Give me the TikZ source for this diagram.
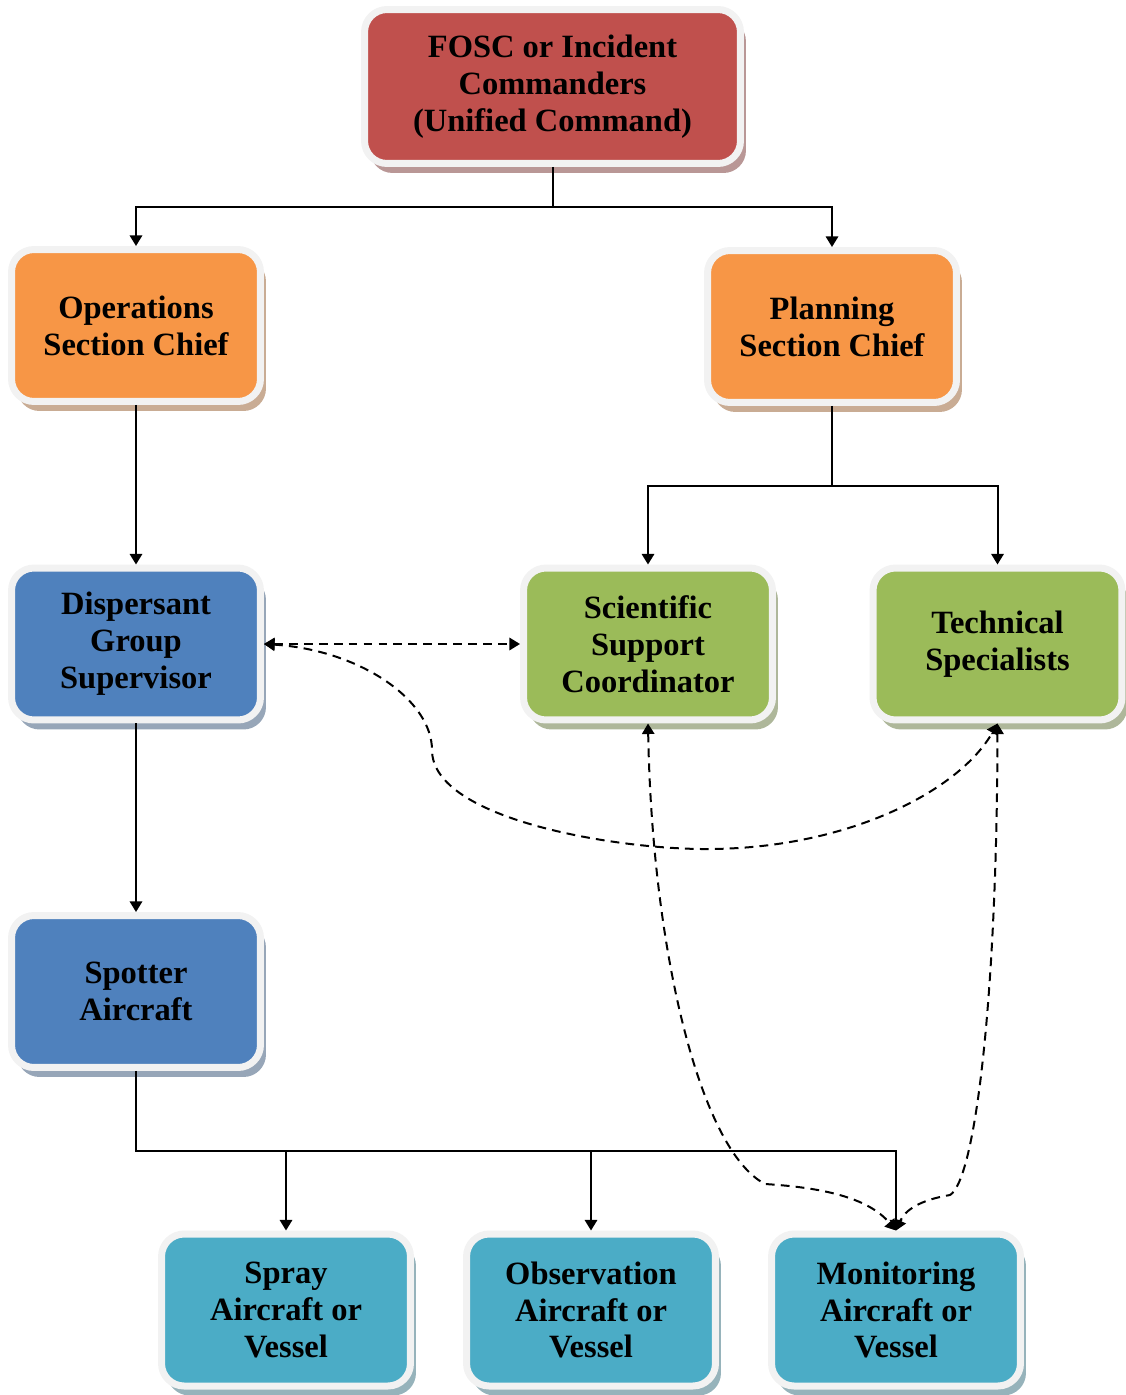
\documentclass[tikz,border=0pt]{standalone}
\usepackage{fontspec}
\setmainfont{Liberation Serif}
\usetikzlibrary{arrows.meta,shadows}
\definecolor{ringgray}{HTML}{F2F2F2}
\definecolor{fosccol}{HTML}{C0504D}
\definecolor{sectcol}{HTML}{F79646}
\definecolor{dispcol}{HTML}{4F81BD}
\definecolor{scicol}{HTML}{9BBB59}
\definecolor{unitcol}{HTML}{4BACC6}

\begin{document}
\begin{tikzpicture}[x=0.02cm,y=-0.02cm,>={Triangle[width=7pt,length=6pt]},
  box/.style={draw=ringgray, fill=#1, line width=0.14cm, rounded corners=0.45cm,
    minimum width=4.98cm, minimum height=3.04cm, align=center, inner sep=0pt,
    font=\fontsize{18.5}{21}\selectfont\bfseries,
    drop shadow={shadow xshift=0.11cm, shadow yshift=-0.19cm, fill=#1!60!black, opacity=0.5}},
  wire/.style={line width=0.04cm},
  dwire/.style={line width=0.04cm, dash pattern=on 5pt off 3.5pt}]
\useasboundingbox (0,0) rectangle (1125,1395);

\node[box=fosccol, minimum width=7.52cm, minimum height=3.08cm] (fosc) at (552.5,86.5)
  {FOSC or Incident\\Commanders\\(Unified Command)};
\node[box=sectcol] (ops) at (136,325.5) {Operations\\Section Chief};
\node[box=sectcol] (plan) at (832,326.5) {Planning\\Section Chief};
\node[box=dispcol] (disp) at (136,644) {Dispersant\\Group\\Supervisor};
\node[box=scicol] (ssc) at (648,644) {Scientific\\Support\\Coordinator};
\node[box=scicol] (tech) at (997.5,644) {Technical\\Specialists};
\node[box=dispcol] (spot) at (136,991.5) {Spotter\\Aircraft};
\node[box=unitcol] (spray) at (286,1310) {Spray\\Aircraft or\\Vessel};
\node[box=unitcol] (obs) at (591,1310) {Observation\\Aircraft or\\Vessel};
\node[box=unitcol] (mon) at (896,1310) {Monitoring\\Aircraft or\\Vessel};

% solid lines
\coordinate (bus1) at (552.5,207);
\coordinate (bus2) at (832,486);
\coordinate (bus3) at (136,1151);
\draw[wire] (fosc.south) -- (bus1);
\draw[wire,->] (bus1) -| (ops.north);
\draw[wire,->] (bus1) -| (plan.north);
\draw[wire,->] (ops.south) -- (disp.north);
\draw[wire] (plan.south) -- (bus2);
\draw[wire,->] (bus2) -| (ssc.north);
\draw[wire,->] (bus2) -| (tech.north);
\draw[wire,->] (disp.south) -- (spot.north);
\draw[wire,->] (spot.south) -- (bus3) -| (mon.north);
\draw[wire,->] (bus3 -| spray.north) -- (spray.north);
\draw[wire,->] (bus3 -| obs.north) -- (obs.north);

% dashed lines
\draw[dwire,<->] (disp.east) -- (ssc.west);
\draw[dwire,<->] (disp.east) .. controls (360,650) and (432,700) .. (432,750)
  .. controls (432,820) and (620,850) .. (710,849)
  .. controls (850,848) and (960,790) .. (tech.south);
\draw[dwire,<->] (ssc.south) .. controls (652,950) and (700,1150) .. (765,1184)
  .. controls (830,1188) and (870,1200) .. (mon.north);
\draw[dwire,<->] (tech.south) .. controls (997,1000) and (975,1180) .. (950,1195)
  .. controls (920,1200) and (905,1210) .. (mon.north);

\end{tikzpicture}
\end{document}
